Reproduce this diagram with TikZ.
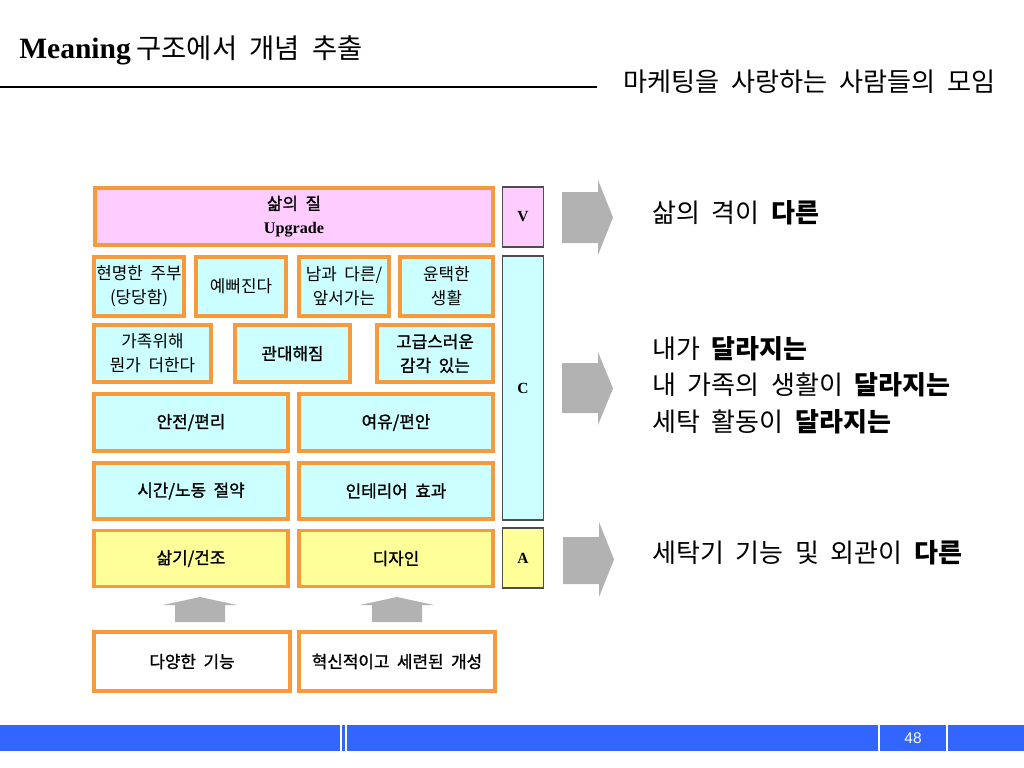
\documentclass[tikz,border=0pt]{standalone}
\usepackage{fontspec}
\setmainfont{Noto Sans CJK KR}[WordSpace=2]
\newfontfamily\krmid{Noto Sans CJK KR}[WordSpace=2,FakeBold=1.3]
\newfontfamily\serifbf{Liberation Serif}
\newfontfamily\numfont{Liberation Sans}
\usepackage{tikz}
\definecolor{MSOrange}{HTML}{F79A3C}
\definecolor{MSPink}{HTML}{FFCCFF}
\definecolor{MSCyan}{HTML}{CCFFFF}
\definecolor{MSYellow}{HTML}{FFFF99}
\definecolor{MSGray}{HTML}{B2B2B2}
\definecolor{MSFrame}{HTML}{4D4D4D}
\definecolor{MSBlue}{HTML}{3366FF}
\newcommand{\boxfont}{\fontsize{12}{17}\selectfont}
\newcommand{\sidefont}{\serifbf\bfseries\fontsize{11}{13}\selectfont}
\newcommand{\bigfont}{\fontsize{18.5}{26}\selectfont}

\begin{document}
\begin{tikzpicture}[x=0.025cm,y=-0.025cm,
  block/.style={draw=MSOrange,line width=2.8pt,align=center,inner sep=0pt,font=\boxfont},
  sidebox/.style={draw=MSFrame,line width=0.8pt,inner sep=0pt,minimum width=1.02cm,font=\sidefont},
  claim/.style={anchor=west,inner sep=0pt,align=left,font=\bigfont}]
\path[use as bounding box] (0,0) rectangle (1024,768);
% header
\node[anchor=west,inner sep=0pt,font=\fontsize{19.5}{22}\selectfont] (title) at (19,50) {{\serifbf\bfseries\fontsize{21}{22}\selectfont Meaning}\hspace{4pt}구조에서 개념 추출};
\node[anchor=east,inner sep=0pt,font=\fontsize{18.6}{22}\selectfont] (club) at (996,82) {마케팅을 사랑하는 사람들의 모임};
\draw[line width=0.9pt] (0,87) -- (597,87);
% pyramid
\node[block,fill=MSPink,minimum width=9.95cm,minimum height=1.43cm] (quality) at (294,216.5) {{\krmid 삶의 질}\\{\serifbf\bfseries\fontsize{11.5}{14}\selectfont Upgrade}};
\node[block,fill=MSCyan,minimum width=2.25cm,minimum height=1.475cm] (wise) at (139,286.5) {현명한 주부\\(당당함)};
\node[block,fill=MSCyan,minimum width=2.25cm,minimum height=1.475cm] (pretty) at (241,286.5) {예뻐진다};
\node[block,fill=MSCyan,minimum width=2.25cm,minimum height=1.475cm] (ahead) at (344,286.5) {남과 다른/\\앞서가는};
\node[block,fill=MSCyan,minimum width=2.33cm,minimum height=1.475cm] (rich) at (446.5,286.5) {윤택한\\생활};
\node[block,fill=MSCyan,minimum width=2.925cm,minimum height=1.425cm] (family) at (152.5,353.5) {가족위해\\뭔가 더한다};
\node[block,fill=MSCyan,minimum width=2.875cm,minimum height=1.425cm] (generous) at (292.5,353.5) {\krmid 관대해짐};
\node[block,fill=MSCyan,minimum width=2.9cm,minimum height=1.425cm] (luxury) at (435,353.5) {\krmid 고급스러운\\\krmid 감각 있는};
\node[block,fill=MSCyan,minimum width=4.85cm,minimum height=1.425cm] (safe) at (191,422.5) {\krmid 안전/편리};
\node[block,fill=MSCyan,minimum width=4.85cm,minimum height=1.425cm] (leisure) at (396,422.5) {\krmid 여유/편안};
\node[block,fill=MSCyan,minimum width=4.85cm,minimum height=1.4cm] (time) at (191,491) {\krmid 시간/노동 절약};
\node[block,fill=MSCyan,minimum width=4.85cm,minimum height=1.4cm] (interior) at (396,491) {\krmid 인테리어 효과};
\node[block,fill=MSYellow,minimum width=4.85cm,minimum height=1.4cm] (dry) at (191,558.5) {\krmid 삶기/건조};
\node[block,fill=MSYellow,minimum width=4.85cm,minimum height=1.4cm] (design) at (396,558.5) {\krmid 디자인};
\node[block,fill=white,minimum width=4.9cm,minimum height=1.475cm] (func) at (192,661.5) {\krmid 다양한 기능};
\node[block,fill=white,minimum width=4.9cm,minimum height=1.475cm] (style) at (397,661.5) {\krmid 혁신적이고 세련된 개성};
% V C A
\node[sidebox,fill=MSPink,minimum height=1.5cm] (vbox) at (523,217) {V};
\node[sidebox,fill=MSCyan,minimum height=6.6cm] (cbox) at (523,388) {C};
\node[sidebox,fill=MSYellow,minimum height=1.5cm] (abox) at (523,558) {A};
% up arrows
\fill[MSGray] (175,622) -- (175,605) -- (163,605) -- (200,597) -- (237,605) -- (225,605) -- (225,622) -- cycle;
\fill[MSGray] (372,622) -- (372,605) -- (360,605) -- (397,597) -- (434,605) -- (422,605) -- (422,622) -- cycle;
% right arrows
\fill[MSGray] (562,192) -- (598,192) -- (598,180) -- (613,217.5) -- (598,255) -- (598,243) -- (562,243) -- cycle;
\fill[MSGray] (562,363) -- (598,363) -- (598,352) -- (613,388.5) -- (598,425) -- (598,413) -- (562,413) -- cycle;
\fill[MSGray] (563,537) -- (599,537) -- (599,522) -- (614,559.5) -- (599,597) -- (599,584) -- (563,584) -- cycle;
% claims
\node[claim] (vtext) at (652,213) {삶의 격이 \textbf{다른}};
\node[claim] (ctext) at (652,385) {내가 \textbf{달라지는}\\내 가족의 생활이 \textbf{달라지는}\\세탁 활동이 \textbf{달라지는}};
\node[claim] (atext) at (652,553) {세탁기 기능 및 외관이 \textbf{다른}};
% footer
\fill[MSBlue] (0,725) rectangle (1024,751);
\draw[white,line width=0.8pt] (341,725) -- (341,751);
\draw[white,line width=0.8pt] (346,725) -- (346,751);
\draw[white,line width=0.8pt] (879,725) -- (879,751);
\draw[white,line width=0.8pt] (947,725) -- (947,751);
\node[white,inner sep=0pt,font=\numfont\fontsize{11}{13}\selectfont] (page) at (913,738) {48};
\end{tikzpicture}
\end{document}
